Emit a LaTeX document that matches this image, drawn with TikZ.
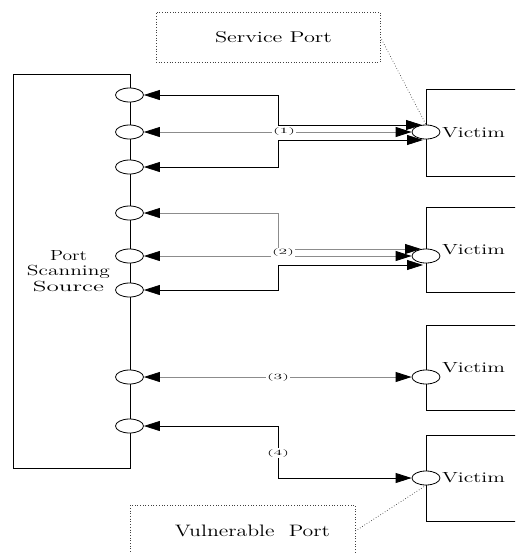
\documentclass[tikz,border=0pt]{standalone}
\usepackage{graphicx}
\usetikzlibrary{arrows.meta,calc,shapes.geometric}
\newcommand\rz[3]{\resizebox{#1pt}{#2pt}{#3}}
\begin{document}
\begin{tikzpicture}[x=1pt,y=-1pt,
  every node/.style={font=\fontsize{14.5}{15.5}\selectfont},
  port/.style={ellipse, draw, fill=white, minimum width=28pt, minimum height=14pt, inner sep=0pt, line width=0.8pt},
  box/.style={draw, line width=0.8pt, inner sep=0pt},
  conn/.style={line width=0.8pt, {Triangle[length=16pt,width=10pt,color=black]}-{Triangle[length=16pt,width=10pt,color=black]}},
  gline/.style={draw=black!45},
  lab/.style={fill=white, inner sep=1pt},
  callout/.style={draw=black!75, dotted, line width=0.7pt, inner sep=0pt},
  dotline/.style={draw=black!75, dotted, line width=0.7pt}]
\useasboundingbox (0,0) rectangle (515,554);
\clip (0,0) rectangle (515,554);

% source box
\node[box, minimum width=117pt, minimum height=394pt, align=center] (src) at (71.5,271)
  {\hspace*{-6pt}\rz{37}{10}{Port}\\\hspace*{-6pt}\rz{83}{10.3}{Scanning}\\\hspace*{-6pt}\rz{71}{10.3}{Source}};

% victim boxes
\node[box, minimum width=95pt, minimum height=87pt] (b1) at (473.5,132.5) {\rz{63}{10}{Victim}};
\node[box, minimum width=95pt, minimum height=85pt] (b2) at (473.5,249.5) {\rz{63}{10}{Victim}};
\node[box, minimum width=95pt, minimum height=85pt] (b3) at (473.5,367.5) {\rz{63}{10}{Victim}};
\node[box, minimum width=95pt, minimum height=86pt] (b4) at (473.5,478) {\rz{63}{10}{Victim}};

% ports
\foreach \n/\y in {1/95,2/132,3/167,4/213,5/256,6/290,7/377,8/426}
  \node[port] (s\n) at (129.5,\y) {};
\node[port] (v1) at (426,132) {};
\node[port] (v2) at (426,256) {};
\node[port] (v3) at (426,377) {};
\node[port] (v4) at (426,478) {};

\coordinate (jx) at (278,0);
\coordinate (v1t) at ($(v1.center)+(-4,-7)$);
\coordinate (v1b) at ($(v1.center)+(-3,8)$);
\coordinate (v2t) at ($(v2.center)+(-5,-7)$);
\coordinate (v2b) at ($(v2.center)+(-3,9)$);

% group 1
\draw[conn, gline] (s2.east) -- (v1.west);
\node[lab] (l1) at (284,132) {\rz{22}{6}{(1)}};
\draw[conn] (s1.east) -- (s1.east -| jx) -- (v1t -| jx) -- (v1t);
\draw[conn] (s3.east) -- (s3.east -| jx) -- (v1b -| jx) -- (v1b);

% group 2
\draw[conn, gline] (s4.east) -- (s4.east -| jx) -- (v2t -| jx) -- (v2t);
\draw[conn, gline] (s5.east) -- (v2.west);
\node[lab] (l2) at (283,253) {\rz{22}{6}{(2)}};
\draw[conn] (s6.east) -- (s6.east -| jx) -- (v2b -| jx) -- (v2b);

% group 3
\draw[conn, gline] (s7.east) -- (v3.west);
\node[lab] (l3) at (278,377) {\rz{22}{6}{(3)}};

% group 4
\draw[conn] (s8.east) -- (s8.east -| jx) -- (v4.west -| jx) -- (v4.west);
\node[lab] (l4) at (278,453) {\rz{22}{6}{(4)}};

% callouts
\node[callout, minimum width=224pt, minimum height=50pt] (sp) at (268,37)
  {\hspace*{11pt}\rz{117}{11}{Service Port}};
\draw[dotline] (sp.east) -- (v1.north);
\node[callout, minimum width=225pt, minimum height=52pt] (vp) at (242.5,531)
  {\hspace*{20pt}\rz{155}{11.5}{Vulnerable\ \ Port}};
\draw[dotline] (vp.east) -- (v4.south);
\end{tikzpicture}
\end{document}
